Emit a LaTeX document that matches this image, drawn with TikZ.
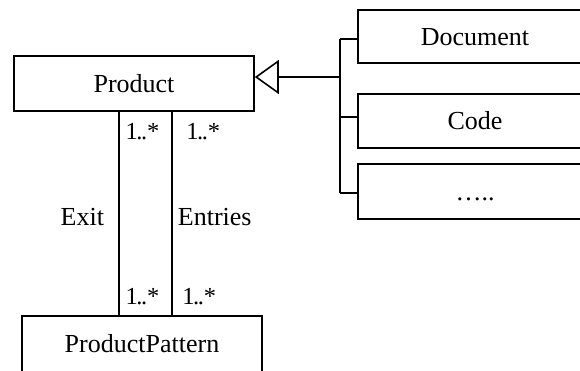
\documentclass[tikz,border=0pt]{standalone}
\usepackage{fontspec}
\setmainfont{Liberation Serif}
\usetikzlibrary{arrows.meta}

\tikzset{
  cls/.style={draw=black, line width=1.6pt, rectangle, inner sep=0pt,
              text height=17pt, text depth=0pt,
              font=\fontsize{26}{30}\selectfont},
  link/.style={draw=black, line width=1.6pt},
  mult/.style={inner sep=0pt, anchor=base west, font=\fontsize{24.5}{28}\selectfont},
  role/.style={inner sep=0pt, anchor=base west, font=\fontsize{26}{30}\selectfont},
  gen/.style={link, -{Triangle[open, length=24pt, width=34pt, line width=1.6pt]}}
}
% multiplicity text with the dots set close together
\newcommand\manyof{1\kern-1.5pt.\kern-1.5pt.*}

\begin{document}
\begin{tikzpicture}[x=1pt, y=-1pt]
  \useasboundingbox (0,0) rectangle (580,370);
  \clip (0,0) rectangle (580,370);

  % classes
  \node[cls, minimum width=240pt, minimum height=55pt] (prod) at (134,83.5) {Product};
  \node[cls, minimum width=240pt, minimum height=56pt] (pat)  at (142,344) {ProductPattern};
  \node[cls, minimum width=234pt, minimum height=53pt] (doc)  at (475,36.5) {Document};
  \node[cls, minimum width=234pt, minimum height=54pt] (code) at (475,121) {Code};
  \node[cls, minimum width=234pt, minimum height=55pt] (etc)  at (475,191.5) {…..};

  % generalisation bus
  \coordinate (hub)  at (340,77);
  \coordinate (btop) at (340,39);
  \coordinate (bmid) at (340,117);
  \coordinate (bbot) at (340,193);
  \draw[link] (btop) -- (bbot);
  \draw[link] (btop) -- (doc.west |- btop);
  \draw[link] (bmid) -- (code.west |- bmid);
  \draw[link] (bbot) -- (etc.west |- bbot);
  \draw[gen] (hub) -- (prod.east |- hub);

  % associations between Product and ProductPattern
  \coordinate (exitx)  at (119,0);
  \coordinate (entryx) at (172,0);
  \draw[link] (prod.south -| exitx) -- (pat.north -| exitx);
  \draw[link] (prod.south -| entryx) -- (pat.north -| entryx);

  % multiplicities
  \node[mult] (m1) at (125.5,139.3) {\manyof};
  \node[mult] (m2) at (186.2,139.3) {\manyof};
  \node[mult] (m3) at (125.5,304) {\manyof};
  \node[mult] (m4) at (182.2,304) {\manyof};

  % role names
  \node[role] (rexit)  at (60.5,225) {Exit};
  \node[role] (rentry) at (177.7,225) {Entries};
\end{tikzpicture}
\end{document}
